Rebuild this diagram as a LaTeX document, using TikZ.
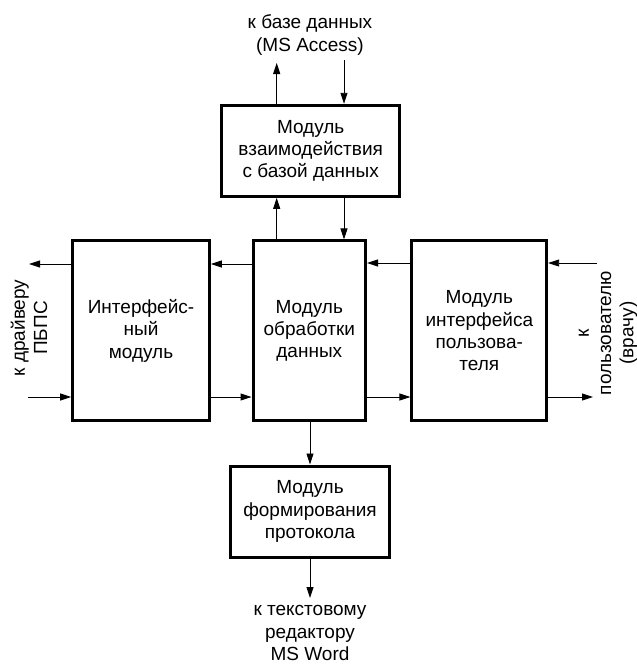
\documentclass[tikz,border=0pt]{standalone}
\usepackage{fontspec}
\setmainfont{Liberation Sans}
\usetikzlibrary{arrows.meta}
\begin{document}
\begin{tikzpicture}[x=1pt,y=1pt,
  box/.style={draw=black,line width=3pt,inner sep=0pt,align=center,
    font=\fontsize{19}{22.3}\selectfont},
  lbl/.style={align=center,inner sep=0pt,font=\fontsize{19}{22.3}\selectfont},
  arr/.style={draw=black,line width=0.9pt,-{Triangle[length=11pt,width=7pt]}}]
\useasboundingbox (0,0) rectangle (637,-664);
% boxes
\node[box,minimum width=177.5pt,minimum height=91pt] (db) at (310.7,-150.8)
  {Модуль\\взаимодействия\\с базой данных};
\node[box,minimum width=136.6pt,minimum height=180pt] (lft) at (141,-330.9)
  {Интерфейс-\\ный\\модуль};
\node[box,minimum width=112.5pt,minimum height=180pt] (cen) at (309.3,-330.9)
  {Модуль\\обработки\\данных};
\node[box,minimum width=134.7pt,minimum height=180pt] (rgt) at (479.3,-330.9)
  {Модуль\\интерфейса\\пользова-\\теля};
\node[box,minimum width=158.6pt,minimum height=91pt] (bot) at (310,-511.5)
  {Модуль\\формирования\\протокола};
% labels
\node[lbl] (ltop) at (310,-35) {к базе данных\\(MS Access)};
\node[lbl] (lbot) at (310,-633) {к текстовому\\редактору\\MS Word};
\node[lbl,rotate=90] (llft) at (29,-328) {к драйверу\\ПБПС};
\node[lbl,rotate=90] (lrgt) at (608,-333) {к\\пользователю\\(врачу)};
% free ends
\coordinate (dbout) at (276.7,-63);
\coordinate (dbin) at (344,-60);
\coordinate (lout) at (29,-264);
\coordinate (lin) at (28,-397);
\coordinate (rin) at (597,-263);
\coordinate (rout) at (593,-397);
\coordinate (bout) at (310,-598);
% connectors
\draw[arr] (db.north -| dbout) -- (dbout);
\draw[arr] (dbin) -- (db.north -| dbin);
\draw[arr] (cen.north -| dbout) -- (db.south -| dbout);
\draw[arr] (db.south -| dbin) -- (cen.north -| dbin);
\draw[arr] (cen.west |- lout) -- (lft.east |- lout);
\draw[arr] (lft.west |- lout) -- (lout);
\draw[arr] (lin) -- (lft.west |- lin);
\draw[arr] (lft.east |- lin) -- (cen.west |- lin);
\draw[arr] (rin) -- (rgt.east |- rin);
\draw[arr] (rgt.west |- rin) -- (cen.east |- rin);
\draw[arr] (cen.east |- rout) -- (rgt.west |- rout);
\draw[arr] (rgt.east |- rout) -- (rout);
\draw[arr] (cen.south -| bot.north) -- (bot.north);
\draw[arr] (bot.south) -- (bout);
\end{tikzpicture}
\end{document}
